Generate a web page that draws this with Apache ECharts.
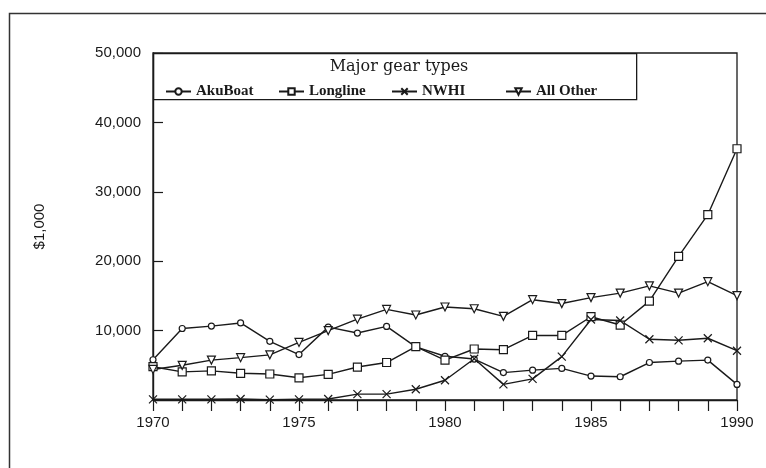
<!DOCTYPE html>
<html>
<head>
<meta charset="utf-8">
<script src="https://cdn.jsdelivr.net/npm/echarts@6/dist/echarts.min.js"></script>
<style>
html,body{margin:0;padding:0;background:#fff;}
#c{width:766px;height:468px;}
</style>
</head>
<body>
<div id="c"></div>
<script>
var years = ['1970','1971','1972','1973','1974','1975','1976','1977','1978','1979','1980','1981','1982','1983','1984','1985','1986','1987','1988','1989','1990'];
var akuBoat  = [5800, 10300, 10650, 11100, 8450, 6550, 10500, 9650, 10600, 7650, 6300, 5900, 3950, 4300, 4550, 3450, 3350, 5400, 5600, 5750, 2250];
var longline = [4800, 4050, 4200, 3850, 3750, 3200, 3700, 4750, 5400, 7700, 5750, 7350, 7250, 9300, 9300, 12000, 10800, 14250, 20700, 26700, 36200];
var nwhi     = [100, 100, 100, 150, 50, 100, 150, 850, 850, 1550, 2850, 5950, 2250, 3050, 6250, 11600, 11450, 8750, 8600, 8900, 7100];
var allOther = [4400, 5000, 5750, 6100, 6500, 8300, 10000, 11650, 13050, 12250, 13400, 13150, 12050, 14450, 13900, 14750, 15400, 16450, 15400, 17050, 15050];
var seriesNames = ['AkuBoat', 'Longline', 'NWHI', 'All Other'];
var legendTitle = 'Major gear types';
var yAxisName = '$1,000';

var ink = '#1a1a1a';
var xPath = 'path://M0,0L10,10M10,0L0,10';
var triPath = 'path://M0,0L10,0L5,10Z';

function mkSeries(name, data, symbol, size) {
  return {
    name: name, type: 'line', data: data,
    symbol: symbol, symbolSize: size, showSymbol: true,
    lineStyle: { color: ink, width: 1.4 },
    itemStyle: { color: '#fff', borderColor: ink, borderWidth: 1.2 },
    emphasis: { disabled: true },
    animation: false, z: 3
  };
}

var legendFont = { fontFamily: 'Liberation Serif', fontWeight: 'bold', fontSize: 15, color: ink };
function mkLegend(name, left) {
  return {
    data: [name], left: left, top: 79, itemWidth: 25, itemHeight: 8, itemGap: 5,
    textStyle: legendFont, selectedMode: false, z: 10
  };
}

var chart = echarts.init(document.getElementById('c'), null, { renderer: 'canvas' });
chart.setOption({
  backgroundColor: '#fff',
  animation: false,
  title: {
    text: legendTitle, left: 394, top: 54, textAlign: 'center',
    textStyle: { fontFamily: 'DejaVu Serif', fontWeight: 'normal', fontSize: 16, color: ink }, z: 10
  },
  legend: [
    mkLegend(seriesNames[0], 160),
    mkLegend(seriesNames[1], 273),
    mkLegend(seriesNames[2], 386),
    mkLegend(seriesNames[3], 500)
  ],
  graphic: [
    { type: 'rect', left: 7, top: 11, shape: { width: 820, height: 456 }, style: { fill: 'none', stroke: '#333', lineWidth: 1.5 }, z: 0, silent: true },
    { type: 'rect', left: 153, top: 53, shape: { width: 483, height: 46 }, style: { fill: '#fff', stroke: ink, lineWidth: 1.3 }, z: 5, silent: true }
  ],
  grid: { left: 153, right: 29, top: 53, bottom: 68, show: true, borderColor: ink, borderWidth: 1.3, backgroundColor: 'transparent' },
  xAxis: {
    type: 'category', data: years, boundaryGap: false,
    axisLine: { lineStyle: { color: ink, width: 1.4 } },
    axisTick: { show: true, interval: 0, length: 11, inside: false, lineStyle: { color: ink, width: 1.2 } },
    axisLabel: { interval: 4, margin: 15, fontFamily: 'Liberation Sans', fontSize: 15, color: ink },
    splitLine: { show: false }
  },
  yAxis: {
    type: 'value', min: 0, max: 50000, interval: 10000,
    name: yAxisName, nameLocation: 'middle', nameGap: 106, nameRotate: 90,
    nameTextStyle: { fontFamily: 'Liberation Sans', fontSize: 15, color: ink },
    axisLine: { show: true, lineStyle: { color: ink, width: 1.4 } },
    axisTick: { show: true, inside: true, length: 10, lineStyle: { color: ink, width: 1.2 } },
    axisLabel: {
      showMinLabel: false, margin: 12, fontFamily: 'Liberation Sans', fontSize: 15, color: ink,
      formatter: function (v) { return v === 0 ? '' : v.toLocaleString('en-US'); }
    },
    splitLine: { show: false }
  },
  series: [
    mkSeries(seriesNames[0], akuBoat, 'circle', 6),
    mkSeries(seriesNames[1], longline, 'rect', 8),
    mkSeries(seriesNames[2], nwhi, xPath, 8),
    mkSeries(seriesNames[3], allOther, triPath, 8)
  ]
});
</script>
</body>
</html>
